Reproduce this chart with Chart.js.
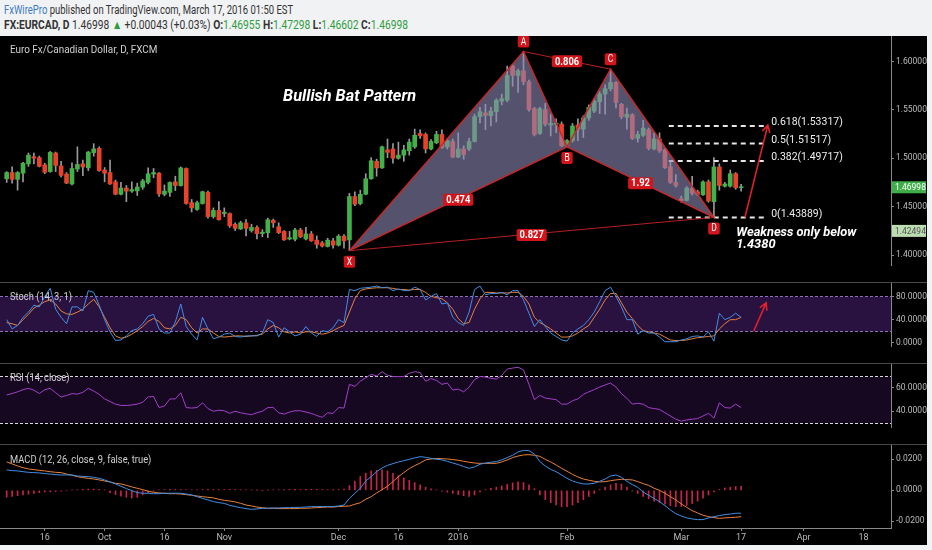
<!DOCTYPE html>
<html>
<head>
<meta charset="utf-8">
<title>EURCAD daily - bullish bat</title>
<script src="https://cdn.jsdelivr.net/npm/chart.js@4.4.1/dist/chart.umd.min.js"></script>
<style>
  html, body { margin: 0; padding: 0; }
  body { width: 932px; height: 550px; background: #f1f2f4; position: relative; overflow: hidden; font-family: Roboto, sans-serif; }
  .hdr { position: absolute; left: 4px; white-space: nowrap; transform-origin: 0 50%; color: #333; }
  #h1 { top: 3px; font-size: 12px; transform: scaleX(0.79); }
  #h2 { top: 17px; font-size: 12.5px; transform: scaleX(0.82); }
  .g { color: #2e9e3e; }
  .blue { color: #3a7cc3; }
  #board { position: absolute; left: 0; top: 36px; width: 927px; height: 509px; background: #000; }
  #board canvas { position: absolute; left: 0; }
  .sep { position: absolute; left: 0; width: 927px; height: 1px; background: #4a4a4a; }
  .lbl { position: absolute; left: 10px; color: #d0d0d0; font-size: 11px; white-space: nowrap; transform-origin: 0 50%; transform: scaleX(0.85); }
</style>
</head>
<body>
<div class="hdr" id="h1"><span class="blue">FxWirePro</span> published on TradingView.com, March 17, 2016 01:50 EST</div>
<div class="hdr" id="h2"></div>
<div id="board">
  <canvas id="price" width="927" height="254" style="top:0"></canvas>
  <canvas id="stoch" width="927" height="93" style="top:240px"></canvas>
  <canvas id="rsi" width="927" height="93" style="top:321px"></canvas>
  <canvas id="macd" width="927" height="107" style="top:402px"></canvas>
  <div class="sep" style="top:246px"></div>
  <div class="sep" style="top:327px"></div>
  <div class="sep" style="top:408px"></div>
  <div class="lbl" style="top:7px; transform:scaleX(0.9)">Euro Fx/Canadian Dollar, D, FXCM</div>
  <div class="lbl" style="top:254px">Stoch (14, 3, 1)</div>
  <div class="lbl" style="top:335px">RSI (14, close)</div>
  <div class="lbl" style="top:417px">MACD (12, 26, close, 9, false, true)</div>
</div>
<script>
// daily bars, 7 Sep 2015 -> 17 Mar 2016 (bar 0 = first bar on the left)
const open = [
  1.4788,1.4852,1.4782,1.4846,1.4942,1.5016,1.5006,1.4932,1.4862,1.5054,
  1.4920,1.4836,1.4734,1.4888,1.4942,1.4900,1.5058,1.5102,1.4878,1.4852,
  1.4756,1.4628,1.4692,1.4660,1.4663,1.4702,1.4750,1.4836,1.4846,1.4628,
  1.4647,1.4756,1.4718,1.4894,1.4541,1.4471,1.4532,1.4647,1.4397,1.4461,
  1.4429,1.4429,1.4317,1.4269,1.4333,1.4253,1.4285,1.4221,1.4231,1.4359,
  1.4292,1.4244,1.4166,1.4163,1.4259,1.4166,1.4218,1.4154,1.4125,1.4089,
  1.4147,1.4102,1.4195,1.4157,1.4605,1.4532,1.4628,1.4788,1.4968,1.4900,
  1.5086,1.5096,1.5000,1.5032,1.5077,1.5118,1.5256,1.5246,1.5096,1.5160,
  1.5246,1.5118,1.5173,1.5012,1.5096,1.5096,1.5173,1.5429,1.5468,1.5439,
  1.5480,1.5589,1.5599,1.5952,1.5855,1.5903,1.5791,1.5512,1.5256,1.5503,
  1.5343,1.5352,1.5352,1.5128,1.5182,1.5343,1.5301,1.5417,1.5487,1.5583,
  1.5663,1.5718,1.5782,1.5557,1.5423,1.5449,1.5205,1.5237,1.5295,1.5096,
  1.5198,1.5086,1.4910,1.4750,1.4580,1.4564,1.4686,1.4654,1.4622,1.4756,
  1.4551,1.4910,1.4711,1.4711,1.4840,1.46955
];
const high = [
  1.4862,1.4910,1.4862,1.4958,1.5054,1.5054,1.5022,1.4948,1.5070,1.5064,
  1.4968,1.4852,1.4952,1.5118,1.4980,1.5070,1.5150,1.5118,1.4904,1.4980,
  1.4775,1.4750,1.4718,1.4756,1.4743,1.4782,1.4900,1.4894,1.4852,1.4724,
  1.4756,1.4814,1.4910,1.4900,1.4574,1.4557,1.4660,1.4660,1.4487,1.4551,
  1.4487,1.4435,1.4333,1.4349,1.4365,1.4317,1.4301,1.4263,1.4381,1.4372,
  1.4333,1.4253,1.4244,1.4275,1.4275,1.4285,1.4244,1.4198,1.4141,1.4173,
  1.4173,1.4211,1.4211,1.4637,1.4654,1.4670,1.4840,1.5006,1.4990,1.5125,
  1.5198,1.5150,1.5166,1.5134,1.5198,1.5301,1.5294,1.5262,1.5192,1.5278,
  1.5294,1.5205,1.5198,1.5262,1.5128,1.5205,1.5455,1.5525,1.5557,1.5525,
  1.5615,1.5663,1.5952,1.5968,1.5920,1.6102,1.5807,1.5525,1.5525,1.5567,
  1.5455,1.5407,1.5375,1.5192,1.5359,1.5407,1.5439,1.5551,1.5615,1.5686,
  1.5759,1.5920,1.5791,1.5567,1.5519,1.5461,1.5278,1.5391,1.5311,1.5262,
  1.5262,1.5096,1.4958,1.4830,1.4610,1.4708,1.4814,1.4670,1.4766,1.4775,
  1.5006,1.4942,1.4750,1.4878,1.4852,1.47298
];
const low = [
  1.4750,1.4743,1.4670,1.4756,1.4916,1.4942,1.4910,1.4840,1.4855,1.4862,
  1.4807,1.4737,1.4724,1.4862,1.4820,1.4872,1.5022,1.4865,1.4756,1.4730,
  1.4622,1.4622,1.4551,1.4647,1.4615,1.4679,1.4734,1.4798,1.4605,1.4612,
  1.4605,1.4666,1.4711,1.4525,1.4445,1.4461,1.4525,1.4381,1.4381,1.4359,
  1.4397,1.4285,1.4253,1.4263,1.4198,1.4237,1.4166,1.4189,1.4179,1.4285,
  1.4221,1.4150,1.4157,1.4147,1.4179,1.4157,1.4141,1.4070,1.4083,1.4083,
  1.4070,1.4093,1.4070,1.4045,1.4509,1.4519,1.4622,1.4782,1.4814,1.4894,
  1.5006,1.4948,1.4990,1.4968,1.5032,1.5102,1.5205,1.5054,1.5086,1.5150,
  1.5102,1.5096,1.5006,1.5006,1.4990,1.5077,1.5166,1.5365,1.5295,1.5333,
  1.5375,1.5551,1.5583,1.5743,1.5679,1.5759,1.5487,1.5230,1.5246,1.5333,
  1.5230,1.5263,1.5118,1.5117,1.5166,1.5182,1.5214,1.5391,1.5471,1.5461,
  1.5455,1.5695,1.5519,1.5407,1.5301,1.5192,1.5166,1.5224,1.5086,1.5086,
  1.5060,1.4894,1.4740,1.4702,1.4545,1.4558,1.4622,1.4615,1.4615,1.4545,
  1.43889,1.4670,1.4702,1.4702,1.4679,1.46602
];
const close = [
  1.4852,1.4782,1.4852,1.4948,1.5032,1.5000,1.4916,1.4855,1.5060,1.4926,
  1.4823,1.4743,1.4894,1.4936,1.4910,1.5064,1.5096,1.4872,1.4846,1.4734,
  1.4628,1.4692,1.4660,1.4676,1.4702,1.4766,1.4839,1.4852,1.4631,1.4660,
  1.4750,1.4718,1.4900,1.4532,1.4487,1.4541,1.4654,1.4397,1.4461,1.4365,
  1.4442,1.4301,1.4275,1.4333,1.4275,1.4285,1.4221,1.4237,1.4365,1.4333,
  1.4231,1.4157,1.4179,1.4259,1.4189,1.4218,1.4147,1.4109,1.4093,1.4154,
  1.4102,1.4195,1.4147,1.4605,1.4525,1.4628,1.4788,1.4974,1.4900,1.5118,
  1.5061,1.5000,1.5032,1.5086,1.5166,1.5237,1.5230,1.5096,1.5173,1.5246,
  1.5109,1.5182,1.5012,1.5096,1.5038,1.5173,1.5429,1.5480,1.5442,1.5487,
  1.5599,1.5615,1.5855,1.5855,1.5903,1.5791,1.5503,1.5246,1.5512,1.5352,
  1.5359,1.5355,1.5128,1.5182,1.5333,1.5301,1.5417,1.5525,1.5589,1.5663,
  1.5718,1.5782,1.5577,1.5429,1.5455,1.5205,1.5246,1.5311,1.5102,1.5198,
  1.5077,1.4904,1.4750,1.4718,1.4564,1.4692,1.4638,1.4628,1.4756,1.4558,
  1.4910,1.4718,1.4734,1.4840,1.46955,1.46998
];

// stochastic %K / %D
const stochK = [
  40,24,30,44,53,65,62,80,94,58, 44,33,62,62,55,90,87,65,40,19,
  4,5,12,21,24,33,46,49,24,17, 17,36,67,28,15,5,44,24,7,10,
  15,17,11,10,12,12,12,17,40,35, 10,26,19,12,15,28,17,11,21,19,
  26,40,35,92,90,94,95,96,98,95, 96,90,93,90,90,96,92,74,80,85,
  67,69,44,35,30,53,92,98,83,85, 85,87,83,90,90,74,51,28,40,28,
  17,11,5,3,17,24,30,40,53,71, 90,96,80,62,40,40,15,21,17,17,
  10,2,2,2,5,7,11,12,10,19, 3,51,40,44,51,44
];
const stochD = [
  35,33,30,40,49,60,65,71,74,67, 55,50,49,53,58,67,75,62,44,26,
  12,8,10,15,21,28,37,42,37,26, 24,30,44,40,26,17,24,24,17,11,
  10,11,12,12,11,12,13,15,24,30, 26,19,17,19,17,19,19,17,15,17,
  21,26,30,53,76,90,93,94,95,95, 95,94,92,92,91,92,92,87,80,78,
  76,69,58,42,33,35,58,76,87,87, 86,86,86,87,87,80,67,44,35,30,
  24,17,10,10,12,17,24,30,44,58, 74,85,85,69,53,42,30,21,19,17,
  15,10,5,4,4,5,7,9,10,11, 12,24,33,40,40,44
];
const rsi = [
  53.8,54.9,56.4,58.2,59.3,57.8,54.9,58.2,59.3,55.6, 52,53.3,54.9,54.4,56,59.3,57.1,54.2,50.4,48.2,
  46,44.9,44.9,45.3,46,47.6,52,52.4,43.1,44.4, 50.4,50.4,55.6,43.1,42.7,43.1,47.1,42.2,40,40.9,
  40.4,38.2,40,38.7,37.8,37.1,38.7,40,43.1,43.1, 38.7,37.6,39.3,40.4,40.4,39.3,38.2,36.4,34.9,38.7,
  38.2,43.1,42.7,62.7,60.9,65.3,68.2,71.1,69.8,73.3, 70.4,69.3,69.3,69.3,72,73.3,72.7,65.3,67.6,66,
  62.7,63.8,57.8,58.7,56.4,60.4,66.7,69.3,68.9,67.8, 67.1,70.2,75.6,76.4,77.1,74.9,62.7,49.8,53.3,51.1,
  50.4,49.8,46,46,48.9,50.4,54.2,56.4,58.2,60.4, 62.2,63.8,60.4,54.9,50.9,46,46.7,46,43.1,42.2,
  41.6,38.7,36,33.3,31.6,32.7,33.3,33.8,36,38.2, 34.2,47.1,43.1,42.7,46,43.1
];
const macd = [
  0.0131,0.0127,0.0125,0.0120,0.0116,0.0114,0.0112,0.0108,0.0105,0.0101,
  0.0099,0.0099,0.0099,0.0092,0.0090,0.0088,0.0084,0.0077,0.0067,0.0054,
  0.0041,0.0026,0.0011,-0.0002,-0.0015,-0.0019,-0.0019,-0.0022,-0.0022,-0.0019,
  -0.0019,-0.0019,-0.0019,-0.0024,-0.0030,-0.0041,-0.0052,-0.0062,-0.0073,-0.0080,
  -0.0084,-0.0097,-0.0105,-0.0112,-0.0118,-0.0123,-0.0120,-0.0116,-0.0116,-0.0114,
  -0.0114,-0.0112,-0.0112,-0.0110,-0.0110,-0.0108,-0.0105,-0.0105,-0.0105,-0.0105,
  -0.0105,-0.0101,-0.0095,-0.0052,-0.0019,0.0013,0.0060,0.0088,0.0120,0.0144,
  0.0161,0.0172,0.0183,0.0191,0.0200,0.0209,0.0217,0.0213,0.0206,0.0200,
  0.0196,0.0187,0.0176,0.0166,0.0153,0.0142,0.0151,0.0168,0.0176,0.0181,
  0.0185,0.0196,0.0211,0.0226,0.0247,0.0258,0.0256,0.0234,0.0185,0.0157,
  0.0135,0.0120,0.0099,0.0077,0.0060,0.0049,0.0041,0.0041,0.0045,0.0058,
  0.0073,0.0092,0.0099,0.0084,0.0058,0.0037,0.0019,-0.0011,-0.0032,-0.0052,
  -0.0073,-0.0099,-0.0127,-0.0151,-0.0166,-0.0178,-0.0185,-0.0189,-0.0189,-0.0178,
  -0.0170,-0.0163,-0.0157,-0.0153,-0.0148,-0.0148
];
const signal = [
  0.0183,0.0170,0.0157,0.0146,0.0138,0.0133,0.0129,0.0125,0.0120,0.0116,
  0.0114,0.0105,0.0097,0.0088,0.0082,0.0077,0.0073,0.0067,0.0060,0.0054,
  0.0045,0.0041,0.0032,0.0022,0.0013,0.0004,-0.0006,-0.0013,-0.0017,-0.0019,
  -0.0022,-0.0022,-0.0024,-0.0028,-0.0032,-0.0037,-0.0041,-0.0045,-0.0049,-0.0058,
  -0.0065,-0.0069,-0.0075,-0.0084,-0.0095,-0.0101,-0.0108,-0.0112,-0.0116,-0.0116,
  -0.0118,-0.0118,-0.0118,-0.0118,-0.0116,-0.0116,-0.0114,-0.0112,-0.0110,-0.0108,
  -0.0108,-0.0105,-0.0103,-0.0101,-0.0090,-0.0080,-0.0058,-0.0041,-0.0017,0.0004,
  0.0026,0.0056,0.0088,0.0114,0.0140,0.0159,0.0176,0.0196,0.0202,0.0206,
  0.0204,0.0202,0.0198,0.0194,0.0187,0.0181,0.0176,0.0174,0.0174,0.0174,
  0.0174,0.0183,0.0196,0.0211,0.0221,0.0228,0.0230,0.0226,0.0219,0.0200,
  0.0183,0.0163,0.0142,0.0123,0.0103,0.0086,0.0073,0.0065,0.0058,0.0054,
  0.0056,0.0062,0.0067,0.0071,0.0069,0.0067,0.0056,0.0043,0.0032,0.0013,
  0.0000,-0.0019,-0.0041,-0.0062,-0.0088,-0.0110,-0.0131,-0.0146,-0.0161,-0.0170,
  -0.0176,-0.0181,-0.0178,-0.0176,-0.0174,-0.0170
];
const hist = [
  -0.0045,-0.0040,-0.0035,-0.0030,-0.0025,-0.0020,-0.0015,-0.0010,-0.0010,-0.0008,-0.0006,
  -0.0003,0.0002,0.0004,0.0006,0.0008,0.0008,0.0006,0.0002,
  -0.0015,-0.0028,-0.0038,-0.0045,-0.0050,-0.0045,-0.0030,-0.0015,
  -0.0006,0.0002,0.0005,0.0006,0.0006,0.0005,0.0004,0.0003,0.0002,
  0.0005,0.0006,0.0005,0.0004,0.0005,0.0006,0.0005,0.0004,0.0003,0.0002,0.0001,-0.0001,
  0.0002,0.0003,0.0004,0.0005,0.0006,0.0006,0.0005,0.0006,0.0007,0.0006,0.0005,0.0004,0.0004,0.0005,0.0008,
  0.0030,0.0060,0.0090,0.0110,0.0125,0.0130,0.0132,0.0125,0.0110,0.0095,0.0080,0.0065,0.0050,0.0035,0.0020,0.0010,
  0.0003,-0.0005,-0.0012,-0.0020,-0.0028,-0.0035,-0.0040,-0.0030,
  -0.0010,0.0005,0.0012,0.0020,0.0028,0.0038,0.0048,0.0055,0.0050,0.0035,0.0010,
  -0.0030,-0.0060,-0.0080,-0.0095,-0.0105,-0.0105,-0.0095,-0.0080,-0.0060,-0.0040,-0.0020,
  0.0005,0.0020,0.0035,0.0045,0.0040,0.0020,-0.0005,
  -0.0020,-0.0040,-0.0055,-0.0070,-0.0080,-0.0090,-0.0100,-0.0105,-0.0105,-0.0098,-0.0085,-0.0070,-0.0050,-0.0030,
  -0.0010,0.0005,0.0015,0.0020,0.0024,0.0025
];

// time axis: bar positions of the date labels
const xTickPos = [7, 18, 29, 40, 61, 72, 83, 103, 124, 135, 146.5, 157.5];
const xTickText = ['16', 'Oct', '16', 'Nov', 'Dec', '16', '2016', 'Feb', 'Mar', '17', 'Apr', '18'];
const priceTicks = [1.40, 1.45, 1.50, 1.55, 1.60];
const stochTicks = [0, 40, 80];
const rsiTicks = [40, 60];
const macdTicks = [-0.02, 0, 0.02];

// harmonic pattern X A B C D and its ratios
const patName = ['X', 'A', 'B', 'C', 'D'];
const patBar = [63, 95, 103, 111, 130];
const patPrice = [1.4045, 1.6102, 1.5117, 1.5920, 1.43889];
const ratioLegs = [[0, 2, '0.474'], [1, 3, '0.806'], [2, 4, '1.92'], [0, 4, '0.827']];
// fib projection of the AD leg
const fibRatio = ['0.618', '0.5', '0.382', '0'];
const fibPrice = [1.53317, 1.51517, 1.49717, 1.43889];
const fibSpan = [121.7, 139.8];
const projArrow = [[135.7, 1.43889], [139.9, 1.5342]];
const stochArrow = [[137.3, 20], [139.6, 69]];
const alertLevel = 1.42494;

const UP = '#43b04a', DOWN = '#e5432c', WICK = '#9a9a9a', TAG_RED = '#d3141b';
const last = close.length - 1;

Chart.defaults.font.family = 'Roboto, sans-serif';
Chart.defaults.color = '#bbb';

// header line 2 from the last bar
const chg = close[last] - close[last - 1];
document.getElementById('h2').innerHTML =
  `<b>FX:EURCAD, D</b> ${close[last].toFixed(5)} <span class="g">&#9650;</span> +${chg.toFixed(5)} (+${(chg / close[last - 1] * 100).toFixed(2)}%) ` +
  `<b>O:</b><span class="g">${open[last].toFixed(5)}</span> <b>H:</b><span class="g">${high[last].toFixed(5)}</span> ` +
  `<b>L:</b><span class="g">${low[last].toFixed(5)}</span> <b>C:</b><span class="g">${close[last].toFixed(5)}</span>`;

const pts = arr => arr.map((v, i) => ({ x: i, y: v }));
const pt = k => ({ x: patBar[k], y: patPrice[k] });

function xScale(show) {
  return {
    type: 'linear', min: -1.23, max: 162.55, display: show, offset: false,
    afterBuildTicks: s => { s.ticks = xTickPos.map(v => ({ value: v })); },
    afterFit: s => { s.height = 17; s.paddingLeft = 0; s.paddingRight = 0; },
    ticks: { autoSkip: false, maxRotation: 0, padding: 1, font: { size: 9 },
      callback: v => xTickText[xTickPos.indexOf(v)] },
    grid: { drawOnChartArea: false, offset: false, color: '#888', tickLength: 3 },
    border: { color: '#888' }
  };
}
function yScale(min, max, ticks, digits) {
  return {
    position: 'right', min, max,
    afterBuildTicks: s => { s.ticks = ticks.map(v => ({ value: v })); },
    afterFit: s => { s.width = 36; s.paddingTop = 0; s.paddingBottom = 0; },
    ticks: { padding: 2, font: { size: 8.5 }, callback: v => v.toFixed(digits) },
    grid: { drawOnChartArea: false, color: '#888', tickLength: 3 },
    border: { color: '#888' }
  };
}
function baseOptions(pad, x, y) {
  return {
    animation: false, responsive: false, events: [],
    layout: { padding: pad },
    plugins: { legend: { display: false }, tooltip: { enabled: false } },
    scales: { x, y }
  };
}

function squeezed(ctx, text, x, y, sx) {
  ctx.save();
  ctx.translate(x, y);
  ctx.scale(sx, 1);
  ctx.fillText(text, 0, 0);
  ctx.restore();
}
function tag(ctx, text, cx, cy, font, minW) {
  ctx.font = font;
  const w = Math.max(ctx.measureText(text).width * 0.85 + 6, minW), h = 12;
  ctx.fillStyle = TAG_RED;
  ctx.beginPath();
  ctx.roundRect(cx - w / 2, cy - h / 2, w, h, 2);
  ctx.fill();
  ctx.fillStyle = '#fff';
  ctx.textAlign = 'center';
  ctx.textBaseline = 'middle';
  squeezed(ctx, text, cx, cy + 0.5, 0.85);
}
function arrow(ctx, x1, y1, x2, y2) {
  const a = Math.atan2(y2 - y1, x2 - x1);
  ctx.strokeStyle = '#e3202a';
  ctx.lineWidth = 1.6;
  ctx.beginPath();
  ctx.moveTo(x1, y1);
  ctx.lineTo(x2, y2);
  ctx.moveTo(x2 - 8 * Math.cos(a - 0.5), y2 - 8 * Math.sin(a - 0.5));
  ctx.lineTo(x2, y2);
  ctx.lineTo(x2 - 8 * Math.cos(a + 0.5), y2 - 8 * Math.sin(a + 0.5));
  ctx.stroke();
}
function axisTag(ctx, text, left, y, bg, fg) {
  ctx.fillStyle = bg;
  ctx.fillRect(left + 1, y - 6, 34, 12);
  ctx.fillStyle = fg;
  ctx.font = '8.5px Roboto';
  ctx.textAlign = 'left';
  ctx.textBaseline = 'middle';
  ctx.fillText(text, left + 4, y + 0.5);
}

// drawings on the price pane
const priceOverlay = {
  id: 'priceOverlay',
  afterDraw(chart) {
    const { ctx, chartArea: area, scales: { x, y } } = chart;
    const px = v => x.getPixelForValue(v), py = v => y.getPixelForValue(v);
    ctx.save();
    ratioLegs.forEach(([s, e, t]) => {
      tag(ctx, t, (px(patBar[s]) + px(patBar[e])) / 2, (py(patPrice[s]) + py(patPrice[e])) / 2 + 1, 'bold 11px Roboto', 0);
    });
    patName.forEach((n, k) => {
      const below = k % 2 === 0;
      tag(ctx, n, px(patBar[k]), py(patPrice[k]) + (below ? 11 : -10), '10px Roboto', 10);
    });
    ctx.fillStyle = '#eee';
    ctx.font = '11.5px Roboto';
    ctx.textAlign = 'left';
    ctx.textBaseline = 'bottom';
    fibPrice.forEach((p, k) => squeezed(ctx, `${fibRatio[k]}(${p.toFixed(5)})`, px(fibSpan[1]) + 4, py(p) + 2, 0.91));
    arrow(ctx, px(projArrow[0][0]), py(projArrow[0][1]), px(projArrow[1][0]), py(projArrow[1][1]));

    ctx.fillStyle = '#fff';
    ctx.textBaseline = 'middle';
    ctx.font = 'italic bold 17px Roboto';
    squeezed(ctx, 'Bullish Bat Pattern', px(50.8), py(1.5637), 0.96);
    ctx.font = 'italic bold 13.5px Roboto';
    squeezed(ctx, 'Weakness only below', px(134.1), py(1.4234), 0.95);
    squeezed(ctx, '1.4380', px(134.1), py(1.4109), 0.95);

    axisTag(ctx, close[last].toFixed(5), area.right, py(close[last]), '#3fae49', '#fff');
    axisTag(ctx, alertLevel.toFixed(5), area.right, py(alertLevel), '#bcdcb2', '#555');
    ctx.restore();
  }
};

new Chart(document.getElementById('price'), {
  type: 'bar',
  data: {
    datasets: [
      { type: 'line', data: [pt(0), pt(1), pt(2), pt(0)], fill: 'shape', backgroundColor: 'rgba(140,136,182,0.6)',
        borderColor: '#c62828', borderWidth: 1.5, pointRadius: 0, order: 0 },
      { type: 'line', data: [pt(2), pt(3), pt(4), pt(2)], fill: 'shape', backgroundColor: 'rgba(140,136,182,0.6)',
        borderColor: '#c62828', borderWidth: 1.5, pointRadius: 0, order: 0 },
      { type: 'line', data: [pt(1), pt(3)], borderColor: '#b52020', borderWidth: 1, pointRadius: 0, order: 0 },
      { type: 'line', data: [pt(0), pt(4)], borderColor: '#b52020', borderWidth: 1, pointRadius: 0, order: 0 },
      ...fibPrice.map(p => ({
        type: 'line', data: [{ x: fibSpan[0], y: p }, { x: fibSpan[1], y: p }],
        borderColor: '#e6e6e6', borderWidth: 2, borderDash: [5, 4], pointRadius: 0, order: 0
      })),
      { data: close.map((c, i) => ({ x: i, y: [open[i], c] })), grouped: false, barThickness: 4, minBarLength: 1,
        backgroundColor: ctx => close[ctx.dataIndex] >= open[ctx.dataIndex] ? UP : DOWN, order: 1 },
      { data: close.map((c, i) => ({ x: i, y: [low[i], high[i]] })), grouped: false, barThickness: 1,
        backgroundColor: WICK, order: 2 }
    ]
  },
  options: baseOptions({ top: 0, bottom: 8, left: 0, right: 0 }, xScale(false), yScale(1.38971, 1.62625, priceTicks, 5)),
  plugins: [priceOverlay]
});

// shaded band with dashed borders for the oscillators
function band(lo, hi, fillColor, lineColor) {
  return {
    id: 'band',
    beforeDatasetsDraw(chart) {
      const { ctx, chartArea: a, scales: { y } } = chart;
      const top = Math.round(y.getPixelForValue(hi)) + 0.5, bot = Math.round(y.getPixelForValue(lo)) + 0.5;
      ctx.save();
      ctx.fillStyle = fillColor;
      ctx.fillRect(a.left, top, a.right - a.left, bot - top);
      ctx.strokeStyle = lineColor;
      ctx.setLineDash([3, 2]);
      ctx.lineWidth = 1;
      ctx.beginPath();
      ctx.moveTo(a.left, top); ctx.lineTo(a.right, top);
      ctx.moveTo(a.left, bot); ctx.lineTo(a.right, bot);
      ctx.stroke();
      ctx.restore();
    }
  };
}
const line = (arr, color) => ({ data: pts(arr), borderColor: color, borderWidth: 1, pointRadius: 0, tension: 0 });

new Chart(document.getElementById('stoch'), {
  type: 'line',
  data: { datasets: [line(stochK, '#3f8ee6'), line(stochD, '#e8803a')] },
  options: baseOptions({ top: 6, bottom: 6, left: 0, right: 0 }, xScale(false), yScale(-5.4, 104.9, stochTicks, 4)),
  plugins: [band(20, 80, '#2a1240', '#8a74b6'), {
    id: 'stochArrow',
    afterDraw(chart) {
      const { ctx, scales: { x, y } } = chart;
      ctx.save();
      arrow(ctx, x.getPixelForValue(stochArrow[0][0]), y.getPixelForValue(stochArrow[0][1]),
        x.getPixelForValue(stochArrow[1][0]), y.getPixelForValue(stochArrow[1][1]));
      ctx.restore();
    }
  }]
});

new Chart(document.getElementById('rsi'), {
  type: 'line',
  data: { datasets: [line(rsi, '#a23fc9')] },
  options: baseOptions({ top: 6, bottom: 6, left: 0, right: 0 }, xScale(false), yScale(26.7, 80.7, rsiTicks, 4)),
  plugins: [band(30, 70, '#170822', '#d8d8d8')]
});

new Chart(document.getElementById('macd'), {
  type: 'bar',
  data: {
    datasets: [
      { type: 'line', ...line(macd, '#3f8ee6'), order: 0 },
      { type: 'line', ...line(signal, '#e8803a'), order: 0 },
      { data: pts(hist), barThickness: 1, backgroundColor: '#c8234c', grouped: false, order: 1 }
    ]
  },
  options: baseOptions({ top: 6, bottom: 0, left: 0, right: 0 }, xScale(true), yScale(-0.02432, 0.02987, macdTicks, 4))
});
</script>
</body>
</html>
